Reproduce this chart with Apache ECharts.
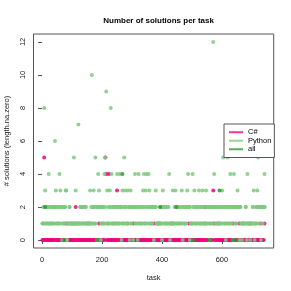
<!DOCTYPE html>
<html><head><meta charset="utf-8">
<script src="https://cdn.jsdelivr.net/npm/echarts@6/dist/echarts.min.js"></script>
<style>html,body{margin:0;padding:0;background:#fff}#c{width:291px;height:291px}</style>
</head><body><div id="c"></div>
<script>
// Each character = number of solutions of one task (string A: task = 3*i + 1, string B: task = 3*i + 2)
const csharpCounts = [
  "0050000000","0000200000","0000001000","0000000200","0000000000",
  "0000002000","0001000000","5400400000","0003000000","0000000000",
  "0100000000","0000000000","0000100000","0000000000","0000000000",
  "0000000000","0001000000","0000000000","0200000000","3100200000",
  "0000000000","0010000001","0000000000","0000000000","00010001"
].join("");
const pythonCountsA = [
  "1283121412","1212631214","3202123011","2111151311","7121212121",
  "11131a2315","2043201214","5931238412","1214214203","1532132031",
  "2024120412","1234134243","1212023111","1210321212","1401131232",
  "1212130212","1342011423","1212312132","1132120121","c421211212",
  "3521025124","1204121320","2101112041","1011230123","51202124"
].join("");
const pythonCountsB = [
  "1121212121","2121212121","2121223011","2111111111","1121212121",
  "1111212121","2222212121","2111212121","2121212121","2121112122",
  "2221212121","2121212121","2122222111","1121212121","2111111121",
  "2121212121","2222211121","2121212121","1121212122","2221211121",
  "2121212121","2222212222","2111112111","1111211121","22222222"
].join("");
// "all" points that remain visible: [task, count]
const allPoints = [[73,0],[184,0],[505,0],[559,0],[637,0],[646,0],[10,2],[394,2],[448,2],[592,3],[268,4]];
const xTicks = [0, 200, 400, 600];
const yTicks = [0, 2, 4, 6, 8, 10, 12];
const seriesNames = ["C#", "Python", "all"];
const colors = ["#F0027F", "#7FC97F", "#2E9A2E"];

function decode(s, offset) {
  const out = [];
  for (let i = 0; i < s.length; i++) out.push([3 * i + offset, parseInt(s[i], 16)]);
  return out;
}
const data = [
  decode(csharpCounts, 1),
  decode(pythonCountsA, 1).concat(decode(pythonCountsB, 2)),
  allPoints
];

const font = "Liberation Sans, Arial, sans-serif";
const chart = echarts.init(document.getElementById('c'), null, {renderer: 'canvas'});
chart.setOption({
  animation: false,
  title: {text: 'Number of solutions per task', left: 153.6, textAlign: 'center', top: 12,
    textStyle: {fontFamily: font, fontSize: 8, fontWeight: 'bold', color: '#000'}},
  grid: {left: 33.5, top: 34, right: 17.3, bottom: 43, show: true, borderColor: '#555', borderWidth: 1,
    containLabel: false, outerBoundsMode: 'none'},
  xAxis: {type: 'value', min: -28.7, max: 772.7, name: 'task', nameLocation: 'middle', nameGap: 26,
    nameTextStyle: {fontFamily: font, fontSize: 7.5, color: '#222'},
    axisLine: {show: false}, splitLine: {show: false},
    axisTick: {show: true, length: 4, customValues: xTicks, lineStyle: {color: '#555'}},
    axisLabel: {customValues: xTicks, margin: 8, fontFamily: font, fontSize: 7.5, color: '#222'}},
  yAxis: {type: 'value', min: -0.48, max: 12.48, name: '# solutions (length.na.zero)', nameLocation: 'middle', nameGap: 23, nameRotate: 90,
    nameTextStyle: {fontFamily: font, fontSize: 7.5, color: '#222'},
    axisLine: {show: false}, splitLine: {show: false},
    axisTick: {show: true, length: 4, customValues: yTicks, lineStyle: {color: '#555'}},
    axisLabel: {customValues: yTicks, rotate: 90, margin: 7, fontFamily: font, fontSize: 7.5, color: '#222'}},
  legend: {orient: 'vertical', left: 224, top: 124, padding: [4, 3, 4, 5], itemGap: 0,
    borderColor: '#555', borderWidth: 1, backgroundColor: '#fff', itemWidth: 14, itemHeight: 2,
    textStyle: {fontFamily: font, fontSize: 7.5, lineHeight: 8.5, color: '#000'},
    data: seriesNames.map((n, i) => ({name: n, icon: 'rect', itemStyle: {color: colors[i], opacity: 0.8}}))},
  series: seriesNames.map((n, i) => ({
    name: n, type: 'scatter', data: data[i], symbol: 'circle', symbolSize: 4,
    itemStyle: {color: colors[i], opacity: 0.85}, emphasis: {disabled: true}
  }))
});
</script></body></html>
